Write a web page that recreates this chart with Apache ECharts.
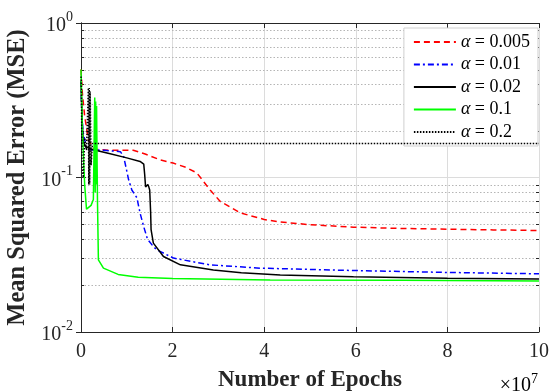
<!DOCTYPE html>
<html>
<head>
<meta charset="utf-8">
<script src="https://cdn.jsdelivr.net/npm/echarts@6/dist/echarts.min.js"></script>
<style>
  html, body { margin: 0; padding: 0; background: #fff; }
  #chart { width: 551px; height: 392px; }
</style>
</head>
<body>
<div id="chart"></div>
<script>
// x values are epochs in units of 1e7
const alphaLabels = ['0.005', '0.01', '0.02', '0.1', '0.2'];

const mse005 = [
  [0, 0.5], [0.03, 0.35], [0.08, 0.25], [0.16, 0.175], [0.3, 0.152], [0.64, 0.150],
  [1.14, 0.150], [1.4, 0.142], [1.73, 0.130], [2.01, 0.124], [2.3, 0.116], [2.53, 0.107],
  [2.82, 0.083], [3.04, 0.070], [3.48, 0.059], [4.0, 0.0535], [4.35, 0.0515], [5.0, 0.0495],
  [5.95, 0.0477], [7.0, 0.0468], [7.99, 0.0463], [9.0, 0.0458], [10, 0.0454]
];
const mse01 = [
  [0, 0.42], [0.01, 0.30], [0.04, 0.20], [0.12, 0.155], [0.2, 0.151], [0.5, 0.150],
  [0.86, 0.147], [0.93, 0.137], [1.0, 0.11], [1.04, 0.0966], [1.11, 0.083], [1.22, 0.074],
  [1.29, 0.0588], [1.37, 0.048], [1.45, 0.040], [1.58, 0.0357], [1.66, 0.034], [2.02, 0.0301],
  [2.5, 0.0283], [2.82, 0.0272], [3.91, 0.0259], [5.0, 0.0254], [5.95, 0.0250], [7.99, 0.0243],
  [10, 0.0238]
];
const mse02 = [
  [0, 0.42], [0.02, 0.25], [0.05, 0.17], [0.1, 0.158], [0.27, 0.151], [0.57, 0.144],
  [1.0, 0.134], [1.29, 0.127], [1.37, 0.122], [1.39, 0.105], [1.41, 0.087], [1.43, 0.0855],
  [1.46, 0.09], [1.48, 0.087], [1.50, 0.083], [1.52, 0.06], [1.53, 0.046], [1.58, 0.0376],
  [1.8, 0.0308], [2.17, 0.0272], [2.89, 0.0252], [3.5, 0.0242], [4.35, 0.0234], [5.95, 0.0228],
  [8, 0.0223], [10, 0.0220]
];
const mse1 = [
  [0, 0.5], [0.03, 0.2], [0.08, 0.09], [0.12, 0.0624], [0.22, 0.066], [0.27, 0.072],
  [0.29, 0.2], [0.30, 0.33], [0.31, 0.08], [0.32, 0.31], [0.33, 0.09], [0.34, 0.29],
  [0.36, 0.07], [0.38, 0.0293], [0.49, 0.0259], [0.81, 0.0236], [1.25, 0.0226], [2.0, 0.0222],
  [4.13, 0.0217], [7, 0.0216], [10, 0.0214]
];
const mse2 = [
  [0, 0.45], [0.01, 0.40], [0.02, 0.12], [0.05, 0.10], [0.08, 0.18], [0.12, 0.15],
  [0.16, 0.38], [0.17, 0.09], [0.18, 0.38], [0.19, 0.09], [0.20, 0.36], [0.22, 0.12],
  [0.25, 0.166], [10, 0.166]
];

const xTicks = [0, 2, 4, 6, 8, 10];
const minorTicks = [0.02, 0.03, 0.04, 0.05, 0.06, 0.07, 0.08, 0.09,
                    0.2, 0.3, 0.4, 0.5, 0.6, 0.7, 0.8, 0.9];

const FONT = 'Liberation Serif';
const AX = '#262626';

const styles = [
  { color: '#ff0000', type: [6, 4] },
  { color: '#0000ff', type: [6, 3, 2, 3] },
  { color: '#000000', type: 'solid' },
  { color: '#00ff00', type: 'solid' },
  { color: '#000000', type: [1.5, 1.5] }
];
const allData = [mse005, mse01, mse02, mse1, mse2];

const chart = echarts.init(document.getElementById('chart'), null, { renderer: 'canvas' });

const supRich = {
  b: { fontFamily: FONT, fontSize: 20, color: AX, lineHeight: 26, verticalAlign: 'bottom' },
  s: { fontFamily: FONT, fontSize: 14, color: AX, lineHeight: 14, verticalAlign: 'top' }
};

const lineSeries = allData.map((d, i) => ({
  name: 'α = ' + alphaLabels[i],
  type: 'line',
  data: d,
  showSymbol: false,
  symbol: 'none',
  lineStyle: { color: styles[i].color, type: styles[i].type, width: 1.5 },
  itemStyle: { color: styles[i].color },
  z: 3 + i
}));

const gridSeries = {
  type: 'custom',
  silent: true,
  z: 1,
  data: minorTicks.map(v => [0, v]),
  renderItem: (params, api) => {
    const cs = params.coordSys;
    const y = Math.round(api.coord([0, api.value(1)])[1]) + 0.5;
    return {
      type: 'group',
      children: [
        { type: 'line', shape: { x1: cs.x, y1: y, x2: cs.x + cs.width, y2: y },
          style: { stroke: '#b5b5b5', lineWidth: 1, lineDash: [1.5, 2] } },
        { type: 'line', shape: { x1: cs.x, y1: y, x2: cs.x + 3, y2: y },
          style: { stroke: AX, lineWidth: 1 } },
        { type: 'line', shape: { x1: cs.x + cs.width - 3, y1: y, x2: cs.x + cs.width, y2: y },
          style: { stroke: AX, lineWidth: 1 } }
      ]
    };
  }
};

chart.setOption({
  animation: false,
  backgroundColor: '#fff',
  grid: { left: 81, right: 12, top: 23, bottom: 60, outerBoundsMode: 'none', containLabel: false },
  legend: {
    data: alphaLabels.map(a => 'α = ' + a),
    orient: 'vertical',
    right: 13,
    top: 28,
    backgroundColor: '#fff',
    borderColor: '#cfcfcf',
    borderWidth: 1,
    borderRadius: 0,
    padding: [5, 8, 5, 9],
    itemWidth: 42,
    itemHeight: 10,
    itemGap: 4.5,
    itemStyle: { opacity: 0 },
    formatter: name => '{a|α}{t|' + name.slice(1) + '}',
    textStyle: {
      rich: {
        a: { fontFamily: FONT, fontSize: 18, fontStyle: 'italic', color: '#000' },
        t: { fontFamily: FONT, fontSize: 18, color: '#000' }
      }
    }
  },
  xAxis: [
    {
      type: 'value', min: 0, max: 10, interval: 2,
      name: 'Number of Epochs', nameLocation: 'middle', nameGap: 37,
      nameTextStyle: { fontFamily: FONT, fontSize: 23, fontWeight: 'bold', color: AX },
      axisLine: { lineStyle: { color: AX, width: 1 } },
      axisTick: { inside: true, length: 5, lineStyle: { color: AX } },
      axisLabel: { fontFamily: FONT, fontSize: 20, color: AX, margin: 10,
        formatter: v => (xTicks.includes(v) ? String(v) : '') },
      splitLine: { show: true, lineStyle: { color: '#dcdcdc', width: 1 } }
    },
    {
      type: 'value', min: 0, max: 10, interval: 2, position: 'top',
      axisLine: { show: true, lineStyle: { color: AX, width: 1 } },
      axisTick: { inside: true, length: 5, lineStyle: { color: AX } },
      axisLabel: { show: false },
      splitLine: { show: false }
    }
  ],
  yAxis: [
    {
      type: 'log', logBase: 10, min: 0.01, max: 1,
      name: 'Mean Squared Error (MSE)', nameLocation: 'middle', nameGap: 47,
      nameTextStyle: { fontFamily: FONT, fontSize: 24.5, fontWeight: 'bold', color: AX },
      axisLine: { show: true, lineStyle: { color: AX, width: 1 } },
      axisTick: { inside: true, length: 5, lineStyle: { color: AX } },
      axisLabel: { margin: 8,
        formatter: v => '{b|10}{s|' + Math.round(Math.log10(v)) + '}', rich: supRich },
      splitLine: { show: true, lineStyle: { color: '#dcdcdc', width: 1 } }
    },
    {
      type: 'log', logBase: 10, min: 0.01, max: 1, position: 'right',
      axisLine: { show: true, lineStyle: { color: AX, width: 1 } },
      axisTick: { inside: true, length: 5, lineStyle: { color: AX } },
      axisLabel: { show: false },
      splitLine: { show: false }
    }
  ],
  graphic: [
    {
      type: 'text', right: 13, bottom: -4,
      style: {
        text: '{m|×10}{s|7}',
        rich: {
          m: { fontFamily: FONT, fontSize: 20, color: AX, lineHeight: 24, verticalAlign: 'bottom' },
          s: { fontFamily: FONT, fontSize: 14, color: AX, lineHeight: 14, verticalAlign: 'top' }
        }
      }
    }
  ],
  series: [gridSeries].concat(lineSeries)
});
</script>
</body>
</html>
